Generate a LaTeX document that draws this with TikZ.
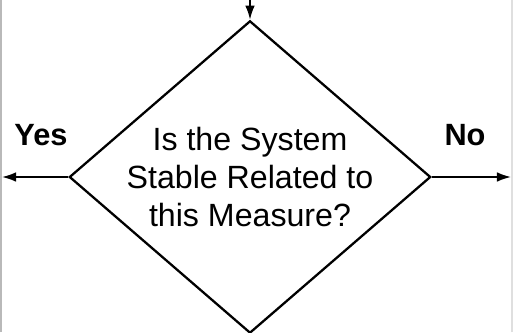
\documentclass[tikz,border=0pt]{standalone}
\usepackage{fontspec}
\setmainfont{Liberation Sans}
\usetikzlibrary{positioning,arrows.meta,shapes.geometric}

\begin{document}
\begin{tikzpicture}[x=0.02cm,y=0.02cm,every node/.style={font=\fontsize{18.3}{21.5}\selectfont},
  flowarrow/.style={-{Latex[length=8pt,width=5.5pt]},line width=1pt},
  branchlabel/.style={font=\fontsize{17.5}{21}\selectfont\bfseries}]
\useasboundingbox (0,0) rectangle (513,332);
\draw[gray!55,line width=0.6pt] (1,0) -- (1,332);
\draw[gray!25,line width=0.6pt] (512,0) -- (512,332);
\node[draw,diamond,aspect=1.157,line width=1.3pt,minimum width=7.0cm,minimum height=6.08cm,inner sep=0pt,align=center] (decision) at (250,155) {Is the System\\Stable Related to\\this Measure?};
\coordinate (entry) at (250,332);
\coordinate (yesend) at (2,155);
\coordinate (noend) at (511,155);
\draw[flowarrow] (entry) -- (decision.north);
\draw[flowarrow] (decision.west) -- (yesend);
\draw[flowarrow] (decision.east) -- (noend);
\node[branchlabel] (yes) at (41,197) {Yes};
\node[branchlabel] (no) at (465,197) {No};
\end{tikzpicture}
\end{document}
